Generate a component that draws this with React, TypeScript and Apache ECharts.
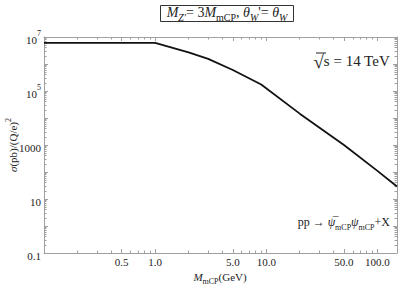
import React, { useEffect, useRef } from "react";
import * as echarts from "echarts";

// Data (mass in GeV, cross-section in pb/(Q/e)^2)
const massGeV = [0.1, 1, 2, 3, 5, 9, 20, 50, 100, 150];
const sigmaPb = [6.1e6, 6.1e6, 2.7e6, 1.55e6, 6.0e5, 1.75e5, 1.45e4, 1.0e3, 1.1e2, 29];

// Axis ranges and ticks
const xRange = [0.1, 150];
const yRange = [0.1, 1e7];
const xMajorTicks = [0.5, 1, 5, 10, 50, 100];
const xMinorTicks = [0.2, 0.3, 0.4, 0.6, 0.7, 0.8, 0.9, 2, 3, 4, 6, 7, 8, 9, 20, 30, 40, 60, 70, 80, 90];
const yLabelTicks = [0.1, 10, 1000, 1e5, 1e7];
const yMajorTicks = [0.1, 1, 10, 100, 1000, 1e4, 1e5, 1e6, 1e7];
const yDecades = [0.1, 1, 10, 100, 1000, 1e4, 1e5, 1e6];
const yMinorMultipliers = [2, 3, 4, 5, 6, 7, 8, 9];
const yMinorTicks: number[] = [];
for (const d of yDecades) {
  for (const k of yMinorMultipliers) yMinorTicks.push(d * k);
}

const L = Math.log10;
const FONT = "'Liberation Serif', 'DejaVu Serif', serif";
const FRAME = "#a0a0a0";
const TXT = "#222";

export default function App() {
  const ref = useRef<HTMLDivElement>(null);
  useEffect(() => {
    if (!ref.current) return;
    const chart = echarts.init(ref.current, undefined, { renderer: "svg" });
    const xMin = L(xRange[0]);
    const xMax = L(xRange[1]);
    const yMin = L(yRange[0]);
    const yMax = L(yRange[1]);
    const tickStyle = { color: FRAME, width: 1 };

    const xAx = (pos: string, vals: number[], len: number, line: boolean, labels: boolean) => ({
      type: "value",
      position: pos,
      min: xMin,
      max: xMax,
      axisLine: { show: line, onZero: false, lineStyle: { color: FRAME, width: 1 } },
      axisTick: { show: true, inside: true, length: len, customValues: vals.map(L), lineStyle: tickStyle },
      axisLabel: labels
        ? {
            show: true,
            customValues: xMajorTicks.map(L),
            formatter: (v: number) => Math.pow(10, v).toFixed(1),
            fontFamily: FONT,
            fontSize: 11,
            color: TXT,
            margin: 3,
          }
        : { show: false },
      splitLine: { show: false },
    });
    const yAx = (pos: string, vals: number[], len: number, line: boolean, labels: boolean) => ({
      type: "value",
      position: pos,
      min: yMin,
      max: yMax,
      axisLine: { show: line, onZero: false, lineStyle: { color: FRAME, width: 1 } },
      axisTick: { show: true, inside: true, length: len, customValues: vals.map(L), lineStyle: tickStyle },
      axisLabel: labels
        ? {
            show: true,
            customValues: yLabelTicks.map(L),
            formatter: (v: number) => {
              const e = Math.round(v);
              if (e >= 5) return "{n|10}{sup|" + e + "}";
              return "{n|" + String(e >= 0 ? Math.round(Math.pow(10, e)) : 0.1) + "}";
            },
            margin: 3,
            rich: {
              n: { fontFamily: FONT, fontSize: 11, color: TXT, lineHeight: 16, verticalAlign: "bottom" },
              sup: { fontFamily: FONT, fontSize: 8, color: TXT, verticalAlign: "top", lineHeight: 16 },
            },
          }
        : { show: false },
      splitLine: { show: false },
    });

    const serifRich = (size: number) => {
      const base = (extra: any) => ({
        fontFamily: FONT,
        fontWeight: "normal",
        color: TXT,
        fill: TXT,
        lineHeight: size + 6,
        ...extra,
      });
      return {
        n: base({ fontSize: size }),
        i: base({ fontSize: size, fontStyle: "italic" }),
        sub: base({ fontSize: Math.round(size * 0.7), verticalAlign: "bottom" }),
        subi: base({ fontSize: Math.round(size * 0.7), fontStyle: "italic", verticalAlign: "bottom" }),
        sup: base({ fontSize: Math.round(size * 0.7), verticalAlign: "top" }),
        r: base({ fontSize: 19, lineHeight: 22 }),
        m: base({ fontSize: 15, lineHeight: 22 }),
      };
    };

    chart.setOption({
      animation: false,
      backgroundColor: "#fff",
      title: [
        {
          text: "{i|M}{subi|Z'}{n|= 3}{i|M}{sub|mCP}{n|, }{i|θ}{subi|W}{n|'= }{i|θ}{subi|W}",
          left: 221,
          top: 2,
          textAlign: "center",
          padding: [0, 6, 0, 6],
          borderColor: "#333",
          borderWidth: 1,
          textStyle: { fontWeight: "normal", rich: serifRich(14) },
        },
        {
          text: "{r|√}{m|s = 14 TeV}",
          right: 9,
          top: 50,
          padding: 0,
          textStyle: { fontWeight: "normal", rich: serifRich(15) },
        },
        {
          text: "{n|pp → }{i|ψ\u0305}{sub|mCP}{i|ψ}{sub|mCP}{n|+X}",
          right: 9,
          top: 213,
          padding: 0,
          textStyle: { fontWeight: "normal", rich: serifRich(12) },
        },
      ],
      grid: { left: 44, right: 2, top: 37, bottom: 33, containLabel: false, outerBoundsMode: "none" },
      xAxis: [
        xAx("bottom", xMajorTicks, 4, true, true),
        xAx("bottom", xMinorTicks, 2.5, false, false),
        xAx("top", xMajorTicks, 4, true, false),
        xAx("top", xMinorTicks, 2.5, false, false),
      ],
      yAxis: [
        yAx("left", yMajorTicks, 4, true, true),
        yAx("left", yMinorTicks, 2.5, false, false),
        yAx("right", yMajorTicks, 4, true, false),
        yAx("right", yMinorTicks, 2.5, false, false),
      ],
      series: [
        {
          type: "line",
          xAxisIndex: 0,
          yAxisIndex: 0,
          data: massGeV.map((m, i) => [L(m), L(sigmaPb[i])]),
          symbol: "none",
          lineStyle: { color: "#111", width: 1.8 },
          silent: true,
        },
      ],
      graphic: [
        {
          type: "text",
          x: 220,
          y: 277,
          style: {
            text: "{i|M}{sub|mCP}{n|(GeV)}",
            rich: serifRich(11),
            textAlign: "center",
            textVerticalAlign: "middle",
          },
        },
        {
          type: "text",
          x: 13,
          y: 145,
          rotation: Math.PI / 2,
          style: {
            text: "{i|σ}{n|(pb)/(Q/e)}{sup|2}",
            rich: serifRich(11),
            textAlign: "center",
            textVerticalAlign: "middle",
          },
        },
        {
          type: "line",
          shape: { x1: 316, y1: 53, x2: 326, y2: 53 },
          style: { stroke: TXT, lineWidth: 1 },
        },
      ],
    });
    return () => chart.dispose();
  }, []);
  return <div ref={ref} style={{ position: "absolute", left: 0, top: 0, width: 399, height: 286 }} />;
}
